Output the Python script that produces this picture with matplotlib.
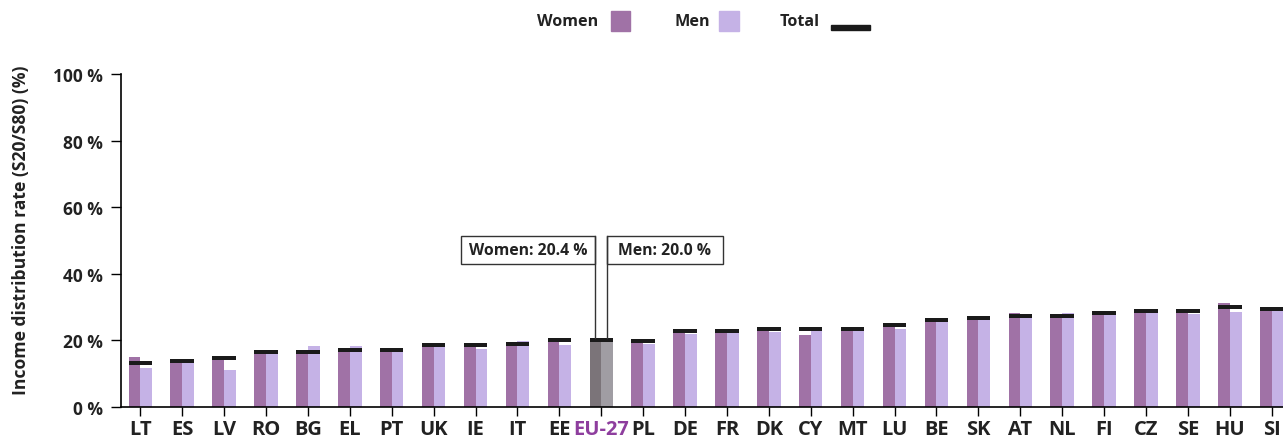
import matplotlib
matplotlib.use("Agg")
import matplotlib.pyplot as plt
from matplotlib.patches import Rectangle
import numpy as np

plt.rcParams['font.family'] = ['Open Sans', 'DejaVu Sans']
plt.rcParams['font.weight'] = 'bold'
plt.rcParams['axes.labelweight'] = 'bold'

countries = ['LT', 'ES', 'LV', 'RO', 'BG', 'EL', 'PT', 'UK', 'IE', 'IT', 'EE',
             'EU-27', 'PL', 'DE', 'FR', 'DK', 'CY', 'MT', 'LU', 'BE', 'SK',
             'AT', 'NL', 'FI', 'CZ', 'SE', 'HU', 'SI']
women = [15.0, 13.8, 14.6, 16.4, 16.4, 17.0, 17.0, 18.5, 18.5, 18.8, 20.0,
         20.4, 19.7, 22.7, 22.7, 23.3, 21.6, 23.3, 24.5, 26.0, 26.6,
         28.2, 27.2, 28.1, 28.7, 28.7, 31.2, 29.3]
men = [11.7, 13.6, 11.1, 16.4, 18.3, 18.3, 17.0, 18.5, 17.4, 19.8, 18.6,
       20.0, 18.9, 21.9, 22.7, 22.5, 23.3, 23.3, 23.4, 26.0, 26.6,
       27.2, 28.2, 28.1, 28.7, 27.9, 28.5, 29.3]
total = [13.3, 13.9, 14.8, 16.6, 16.6, 17.2, 17.2, 18.7, 18.7, 19.0, 20.2,
         20.2, 19.9, 22.9, 22.9, 23.5, 23.5, 23.5, 24.7, 26.2, 26.8,
         27.4, 27.4, 28.3, 28.9, 28.9, 30.1, 29.5]

c_women = '#a072a6'
c_men = '#c5b2e6'
c_eu_women = '#7b7479'
c_eu_men = '#a09da3'
c_total = '#1a1a1a'
c_text = '#222222'

W, H = 1283, 439
fig = plt.figure(figsize=(W / 100, H / 100), dpi=100)
ax = fig.add_axes([120.7 / W, 31 / H, 1 - 120.7 / W, 333 / H])

x = np.arange(len(countries))
bw = 0.28
eu = countries.index('EU-27')

wcol = [c_eu_women if c == 'EU-27' else c_women for c in countries]
mcol = [c_eu_men if c == 'EU-27' else c_men for c in countries]
ax.bar(x - bw / 2, women, bw, color=wcol, zorder=2)
ax.bar(x + bw / 2, men, bw, color=mcol, zorder=2)
# total shown as a thick marker across both bars
th = 1.1
ax.bar(x, [th] * len(x), 2 * bw, bottom=np.array(total) - th / 2,
       color=c_total, zorder=3)

ax.set_xlim(-0.468, 27.27)
ax.set_ylim(0, 100)
ax.set_yticks([0, 20, 40, 60, 80, 100])
ax.set_yticklabels(['%d %%' % v for v in [0, 20, 40, 60, 80, 100]],
                   fontsize=12.5, color=c_text)
ax.set_xticks(x)
ax.set_xticklabels(countries, fontsize=14.5, color=c_text)
ax.get_xticklabels()[eu].set_color('#8e3e9e')
ax.tick_params(axis='y', length=7.5, width=1, pad=5)
ax.tick_params(axis='x', length=6.5, width=1, pad=2.5)
for s in ['top', 'right']:
    ax.spines[s].set_visible(False)
for s in ['left', 'bottom']:
    ax.spines[s].set_linewidth(1.2)
ax.set_ylabel('Income distribution rate (S20/S80) (%)', fontsize=12.6,
              color=c_text)
ax.yaxis.set_label_coords(-0.078, 0.535)

# EU-27 call-out boxes
box_bot, box_top = 42.9, 51.4
top_eu = total[eu] + th / 2
wx = eu - bw / 2
mx = eu + bw / 2
ax.plot([wx, wx], [top_eu, box_top], color='#333333', lw=1, zorder=4)
ax.plot([mx, mx], [top_eu, box_top], color='#333333', lw=1, zorder=4)
ax.add_patch(Rectangle((7.647, box_bot), wx - 7.647, box_top - box_bot,
                       fill=False, ec='#333333', lw=1, zorder=4))
ax.add_patch(Rectangle((mx, box_bot), 13.9 - mx, box_top - box_bot,
                       fill=False, ec='#333333', lw=1, zorder=4))
ax.text((7.647 + wx) / 2, (box_bot + box_top) / 2, 'Women: %.1f %%' % women[eu],
        ha='center', va='center', fontsize=11.3, color=c_text)
ax.text((mx + 13.9) / 2, (box_bot + box_top) / 2, 'Men: %.1f %%' % men[eu],
        ha='center', va='center', fontsize=11.3, color=c_text)

# legend drawn by hand: label first, then key
ly = 1 - 22 / H
fig.text(598 / W, ly, 'Women', ha='right', va='center', fontsize=11.6, color=c_text)
fig.add_artist(Rectangle((611 / W, 1 - 32 / H), 19 / W, 20 / H,
                         transform=fig.transFigure, color=c_women))
fig.text(710 / W, ly, 'Men', ha='right', va='center', fontsize=11.6, color=c_text)
fig.add_artist(Rectangle((719 / W, 1 - 32 / H), 20 / W, 20 / H,
                         transform=fig.transFigure, color=c_men))
fig.text(820 / W, ly, 'Total', ha='right', va='center', fontsize=11.6, color=c_text)
fig.add_artist(Rectangle((831 / W, 1 - 31 / H), 39 / W, 5 / H,
                         transform=fig.transFigure, color=c_total))

fig.savefig('out.png', dpi=100)
